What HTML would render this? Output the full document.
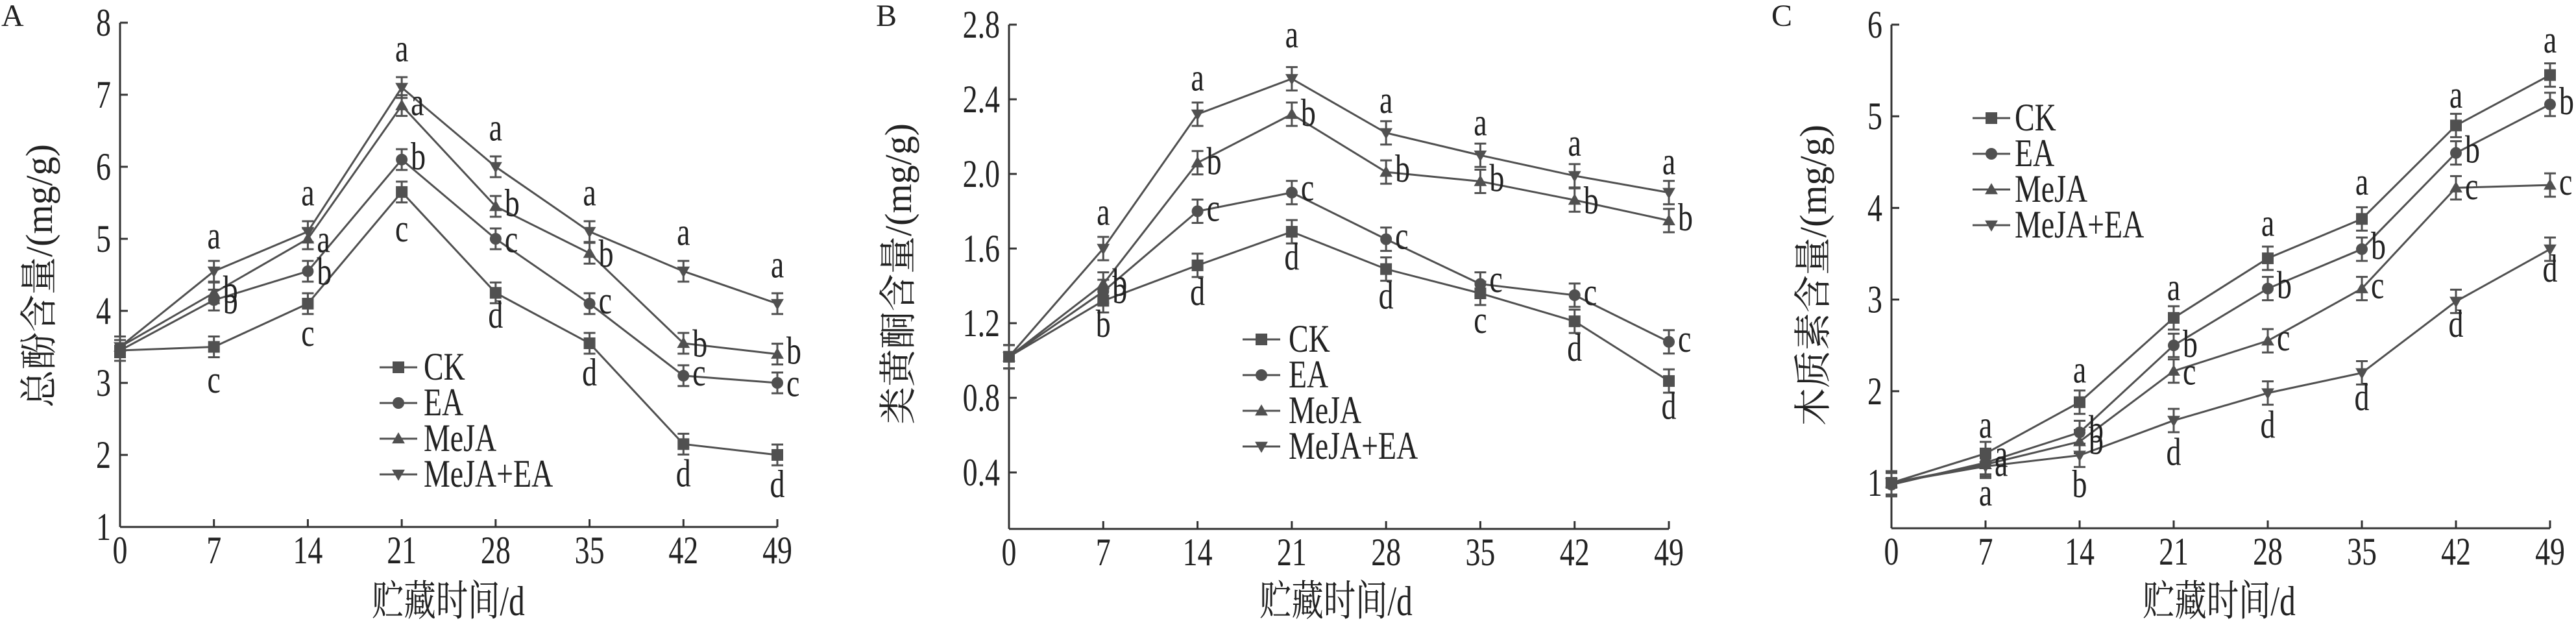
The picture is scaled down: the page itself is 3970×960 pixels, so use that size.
<!DOCTYPE html>
<html><head><meta charset="utf-8"><style>
html,body{margin:0;padding:0;background:#fff;}
svg{display:block;}
text{font-family:"Liberation Serif","Noto Serif CJK SC",serif;fill:#222;}
</style></head><body>
<svg id="s" width="3970" height="960" xmlns="http://www.w3.org/2000/svg"></svg>
<script>
const S=document.getElementById('s');let h='';
const G='#505050';
function mk(type,x,y,r){
 if(type==0)return `<rect x="${x-r}" y="${y-r}" width="${2*r}" height="${2*r}" fill="${G}"/>`;
 if(type==1)return `<circle cx="${x}" cy="${y}" r="${r}" fill="${G}"/>`;
 if(type==2)return `<polygon points="${x},${y-r*1.1} ${x-r*1.1},${y+r*0.8} ${x+r*1.1},${y+r*0.8}" fill="${G}"/>`;
 return `<polygon points="${x},${y+r*1.1} ${x-r*1.1},${y-r*0.8} ${x+r*1.1},${y-r*0.8}" fill="${G}"/>`;
}
function T(x,y,s,fs,anchor){return `<text transform="translate(${x},${y}) scale(0.85,1.12)" font-size="${fs}" text-anchor="${anchor||'start'}">${s}</text>`;}
function panel(P){
 const X=d=>P.x0+(P.x1-P.x0)*d/49, Y=v=>P.y0+(v-P.v0)*(P.ya-P.y0)/(P.va-P.v0);
 h+=`<line x1="${P.x0}" y1="${P.top}" x2="${P.x0}" y2="${P.bot}" stroke="#333" stroke-width="3"/>`;
 h+=`<line x1="${P.x0}" y1="${P.bot}" x2="${P.x1}" y2="${P.bot}" stroke="#333" stroke-width="3"/>`;
 P.yt.forEach(t=>{const y=Y(t[0]);h+=`<line x1="${P.x0}" y1="${y}" x2="${P.x0+12}" y2="${y}" stroke="#333" stroke-width="3"/>`+T(P.x0-14,y+20,t[1],54,'end');});
 for(let d=0;d<=49;d+=7){const x=X(d);h+=`<line x1="${x}" y1="${P.bot}" x2="${x}" y2="${P.bot-12}" stroke="#333" stroke-width="3"/>`+T(x,P.bot+56,d,54,'middle');}
 P.series.forEach((s,k)=>{
  let pts=s.map((v,i)=>X(i*7)+','+Y(v)).join(' ');
  h+=`<polyline points="${pts}" fill="none" stroke="${G}" stroke-width="3"/>`;
  s.forEach((v,i)=>{const x=X(i*7),y=Y(v),e=P.err;
   h+=`<path d="M${x},${y-e}V${y+e}M${x-9},${y-e}H${x+9}M${x-9},${y+e}H${x+9}" stroke="${G}" stroke-width="3" fill="none"/>`;
   h+=mk(k,x,y,9);});
 });
 P.lab.forEach(l=>{const x=X(l[0]),y=Y(l[1]);
  if(l[3]=='r')h+=T(x+14,y+15,l[2],54);
  else h+=T(x,y+15,l[2],54,'middle');});
 ['CK','EA','MeJA','MeJA+EA'].forEach((n,k)=>{const y=P.leg[2]+k*P.leg[3];
  h+=`<line x1="${P.leg[0]}" y1="${y}" x2="${P.leg[0]+58}" y2="${y}" stroke="${G}" stroke-width="3"/>`+mk(k,P.leg[0]+29,y,9)+T(P.leg[1],y+19,n,54);});
 h+=`<text transform="translate(${P.yx},${P.ymid}) rotate(-90) scale(1,1)" font-size="58" text-anchor="middle">${P.ytitle}</text>`;
 h+=T(P.xt,948,'贮藏时间/d',58,'middle');
 h+=`<text x="${P.pl}" y="40" font-size="48">${P.name}</text>`;
}
function L(arr){const o=[];arr.forEach((r,i)=>{const d=(i+1)*7;o.push([d,r[0],'a','c']);r[1].forEach(q=>o.push([d,q[1],q[0],'r']));o.push([d,r[2],r[3],'c']);});return o;}
panel({name:'A',pl:2,x0:185,x1:1198,top:35,bot:812,y0:812,v0:1,ya:35,va:8,err:16,
 yt:[[1,1],[2,2],[3,3],[4,4],[5,5],[6,6],[7,7],[8,8]],
 series:[[3.45,3.5,4.1,5.65,4.25,3.55,2.15,2.0],[3.45,4.15,4.55,6.1,5.0,4.1,3.1,3.0],[3.5,4.25,5.0,6.85,5.45,4.8,3.55,3.4],[3.5,4.55,5.1,7.1,6.0,5.1,4.55,4.1]],
 lab:L([[5.0,[['b',4.25],['b',4.1]],3.0,'c'],[5.6,[['a',4.95],['b',4.5]],3.65,'c'],[7.6,[['a',6.85],['b',6.1]],5.1,'c'],[6.5,[['b',5.45],['c',4.95]],3.9,'d'],[5.6,[['b',4.75],['c',4.1]],3.1,'d'],[5.05,[['b',3.5],['c',3.1]],1.7,'d'],[4.6,[['b',3.4],['c',2.95]],1.55,'d']]),
 leg:[585,653,566,55],yx:80,ymid:425,ytitle:'总酚含量/(mg/g)',xt:691});
panel({name:'B',pl:1350,x0:1555,x1:2572,top:38,bot:815,y0:728,v0:0.4,ya:38,va:2.8,err:18,
 yt:[[0.4,'0.4'],[0.8,'0.8'],[1.2,'1.2'],[1.6,'1.6'],[2.0,'2.0'],[2.4,'2.4'],[2.8,'2.8']],
 series:[[1.02,1.32,1.51,1.69,1.49,1.36,1.21,0.89],[1.02,1.37,1.80,1.90,1.65,1.41,1.35,1.10],[1.02,1.41,2.06,2.32,2.01,1.96,1.86,1.75],[1.02,1.60,2.32,2.51,2.22,2.10,1.99,1.90]],
 lab:L([[1.78,[['b',1.40],['b',1.36]],1.18,'b'],[2.5,[['b',2.05],['c',1.80]],1.35,'d'],[2.73,[['b',2.31],['c',1.91]],1.54,'d'],[2.38,[['b',2.01],['c',1.65]],1.33,'d'],[2.26,[['b',1.96],['c',1.42]],1.2,'c'],[2.15,[['b',1.84],['c',1.35]],1.05,'d'],[2.05,[['b',1.75],['c',1.10]],0.74,'d']]),
 leg:[1915,1986,523,55],yx:1404,ymid:422,ytitle:'类黄酮含量/(mg/g)',xt:2059});
panel({name:'C',pl:2730,x0:2915,x1:3930,top:38,bot:814,y0:744,v0:1,ya:38,va:6,err:18,
 yt:[[1,1],[2,2],[3,3],[4,4],[5,5],[6,6]],
 series:[[1.0,1.32,1.88,2.8,3.45,3.88,4.9,5.45],[0.98,1.22,1.55,2.5,3.12,3.55,4.6,5.13],[1.0,1.2,1.45,2.22,2.55,3.12,4.22,4.25],[1.0,1.18,1.3,1.68,1.98,2.2,2.98,3.55]],
 lab:L([[1.6,[['a',1.28],['a',1.18]],0.86,'a'],[2.2,[['b',1.55],['b',1.42]],0.95,'b'],[3.1,[['b',2.48],['c',2.18]],1.3,'d'],[3.8,[['b',3.12],['c',2.55]],1.6,'d'],[4.25,[['b',3.55],['c',3.12]],1.9,'d'],[5.2,[['b',4.6],['c',4.2]],2.7,'d'],[5.8,[['b',5.13],['c',4.25]],3.3,'d']]),
 leg:[3040,3105,182,55],yx:2814,ymid:424,ytitle:'木质素含量/(mg/g)',xt:3420});
S.innerHTML=h;
</script>
</body></html>
